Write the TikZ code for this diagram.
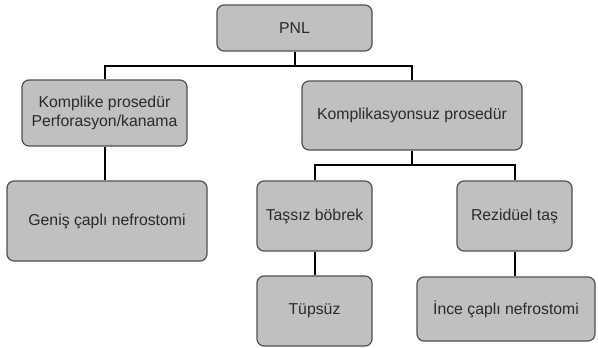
\documentclass[tikz,border=0pt]{standalone}
\usepackage{fontspec}
\setmainfont{Liberation Sans}
\definecolor{boxfill}{HTML}{C0C0C0}
\definecolor{boxline}{HTML}{505050}
\definecolor{txt}{HTML}{2A2A2A}
\begin{document}
\begin{tikzpicture}[x=1pt,y=-1pt,
  box/.style={draw=boxline, fill=boxfill, line width=1.2pt, rounded corners=7pt,
    inner sep=0pt, align=center, text=txt, font=\fontsize{15.8}{19}\selectfont},
  conn/.style={draw=black, line width=2pt, line join=miter}]
\useasboundingbox[fill=white] (0,0) rectangle (598,348);
% boxes
\node[box, minimum width=155pt, minimum height=46pt] (pnl) at (294.5,28) {PNL};
\node[box, minimum width=165pt, minimum height=66pt] (komp) at (104.5,113) {Komplike prosedür\\Perforasyon/kanama};
\node[box, minimum width=220pt, minimum height=69pt] (kompsuz) at (412,115.5) {Komplikasyonsuz prosedür};
\node[box, minimum width=200pt, minimum height=80pt] (genis) at (107,221) {Geniş çaplı nefrostomi};
\node[box, minimum width=115pt, minimum height=70pt] (tassiz) at (314.5,216) {Taşsız böbrek};
\node[box, minimum width=115pt, minimum height=70pt] (rezid) at (514.5,216) {Rezidüel taş};
\node[box, minimum width=115pt, minimum height=70pt] (tupsuz) at (314.5,311) {Tüpsüz};
\node[box, minimum width=178pt, minimum height=64pt] (ince) at (506,309) {İnce çaplı nefrostomi};
% bus coordinates
\coordinate (b1) at (294.5,66);
\coordinate (b2) at (412,165);
% connectors
\draw[conn] (pnl.south) -- (b1);
\draw[conn] (komp.north) |- (b1) -| (kompsuz.north);
\draw[conn] (komp.south) -- (komp.south |- genis.north);
\draw[conn] (kompsuz.south) -- (b2);
\draw[conn] (tassiz.north) |- (b2) -| (rezid.north);
\draw[conn] (tassiz.south) -- (tupsuz.north);
\draw[conn] (rezid.south) -- (rezid.south |- ince.north);
\end{tikzpicture}
\end{document}
